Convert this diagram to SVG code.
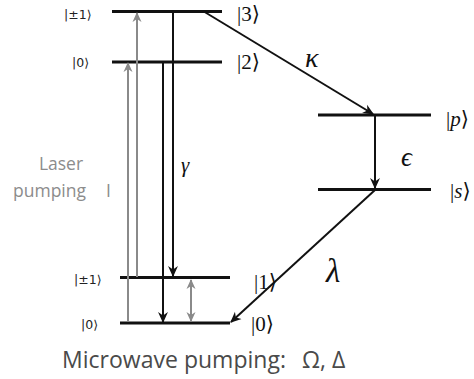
<svg xmlns="http://www.w3.org/2000/svg" width="474" height="379" viewBox="0 0 474 379">
<defs>
<style>
.lvl{stroke:#111;stroke-width:3;fill:none}
.blk{stroke:#111;stroke-width:2;fill:none}
.gry{stroke:#8a8a8a;stroke-width:2;fill:none}
.ket{font-family:"Liberation Serif","DejaVu Serif",serif;font-size:21px;fill:#111}
.sm{font-family:"DejaVu Sans","Liberation Sans",sans-serif;font-size:12.5px;fill:#222}
.math{font-family:"Liberation Serif","DejaVu Serif",serif;font-style:italic;fill:#111}
.lab{font-family:"Open Sans","DejaVu Sans",sans-serif;font-size:17.5px;fill:#8c8c8c}
.mw{font-family:"Open Sans","DejaVu Sans",sans-serif;font-size:23px;fill:#4a4a4a}
</style>
<marker id="ab" viewBox="0 0 10 10" refX="9" refY="5" markerWidth="11" markerHeight="11" markerUnits="userSpaceOnUse" orient="auto-start-reverse">
<path d="M0,0.5 L10,5 L0,9.5 L3,5 z" fill="#111"/>
</marker>
<marker id="ag" viewBox="0 0 10 10" refX="9" refY="5" markerWidth="10" markerHeight="10" markerUnits="userSpaceOnUse" orient="auto-start-reverse">
<path d="M0,0.5 L10,5 L0,9.5 L3,5 z" fill="#8a8a8a"/>
</marker>
</defs>
<rect width="474" height="379" fill="#fff"/>
<g id="level-top-pm1"><line class="lvl" x1="112" y1="11.5" x2="222" y2="11.5"/><text class="sm" x="64" y="19">|±1⟩</text><text class="ket" x="237" y="21">|3⟩</text></g>
<g id="level-top-0"><line class="lvl" x1="112" y1="62" x2="222" y2="62"/><text class="sm" x="72" y="67">|0⟩</text><text class="ket" x="237" y="69">|2⟩</text></g>
<g id="level-p"><line class="lvl" x1="318" y1="115" x2="431" y2="115"/><text class="ket" x="446" y="126">|<tspan font-style="italic">p</tspan>⟩</text></g>
<g id="level-s"><line class="lvl" x1="318" y1="189.5" x2="431" y2="189.5"/><text class="ket" x="450" y="198">|<tspan font-style="italic">s</tspan>⟩</text></g>
<g id="level-bot-pm1"><line class="lvl" x1="120" y1="277.5" x2="230" y2="277.5"/><text class="sm" x="74" y="284">|±1⟩</text><text class="ket" x="254" y="289">|1⟩</text></g>
<g id="level-bot-0"><line class="lvl" x1="120" y1="323" x2="230" y2="323"/><text class="sm" x="81" y="329">|0⟩</text><text class="ket" x="251" y="331">|0⟩</text></g>
<g id="connectors">
<line class="gry" x1="128" y1="322" x2="128" y2="63" marker-end="url(#ag)"/>
<line class="gry" x1="137" y1="277" x2="137" y2="13" marker-end="url(#ag)"/>
<line class="blk" x1="163" y1="62" x2="163" y2="322" marker-end="url(#ab)"/>
<line class="blk" x1="173" y1="12" x2="173" y2="276" marker-end="url(#ab)"/>
<line class="gry" x1="191" y1="280" x2="191" y2="321" marker-start="url(#ag)" marker-end="url(#ag)"/>
<line class="blk" x1="203" y1="11" x2="373" y2="114" marker-end="url(#ab)"/>
<line class="blk" x1="375" y1="116" x2="375" y2="188" marker-end="url(#ab)"/>
<line class="blk" x1="375" y1="190" x2="231" y2="322" marker-end="url(#ab)"/>
</g>
<g id="labels">
<text class="math" x="305" y="67" font-size="28">κ</text>
<text class="math" x="401" y="166" font-size="27">ϵ</text>
<text class="math" x="181" y="172" font-size="21">γ</text>
<text class="math" x="326" y="282" font-size="33">λ</text>
<text class="lab" x="61" y="170" text-anchor="middle">Laser</text>
<text class="lab" x="13" y="197">pumping<tspan x="106">I</tspan></text>
<text class="mw" x="62" y="368" textLength="224">Microwave pumping:</text>
<text class="mw" x="302" y="368">Ω, Δ</text>
</g>
</svg>
